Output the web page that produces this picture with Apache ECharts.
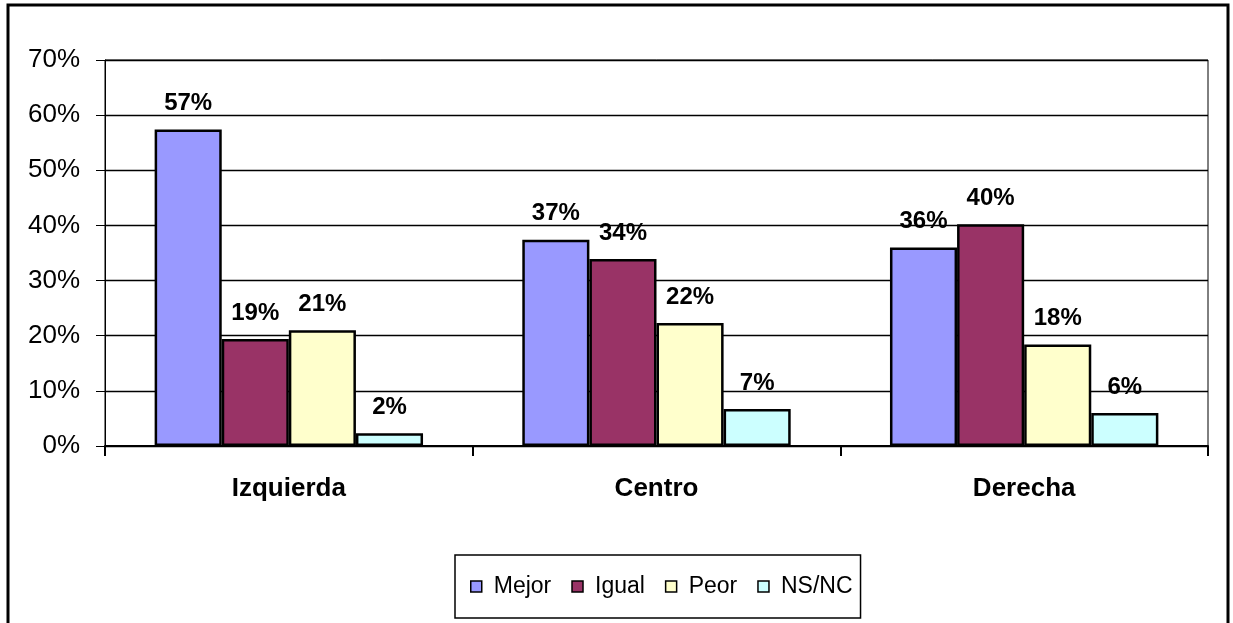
<!DOCTYPE html>
<html>
<head>
<meta charset="utf-8">
<script src="https://cdn.jsdelivr.net/npm/echarts@6/dist/echarts.min.js"></script>
<style>
  html, body { margin: 0; padding: 0; background: #fff; }
  #chart { width: 1233px; height: 623px; }
</style>
</head>
<body>
<div id="chart"></div>
<script>
// data
const categories = ['Izquierda', 'Centro', 'Derecha']
const mejor = [57.4, 37.4, 36.0]
const igual = [19.4, 33.9, 40.2]
const peor  = [21.0, 22.3, 18.4]
const nsnc  = [2.3, 6.7, 6.0]
const seriesNames = ['Mejor', 'Igual', 'Peor', 'NS/NC']
const colors = ['#9999FF', '#993366', '#FFFFCC', '#CCFFFF']

const font = 'Arial, "Liberation Sans", sans-serif'

const chart = echarts.init(document.getElementById('chart'))

const makeSeries = (name, data, i) => ({
  name,
  type: 'bar',
  data,
  barGap: '0%',
  barCategoryGap: '27%',
  itemStyle: { color: colors[i], borderColor: '#000', borderWidth: 2.5 },
  label: {
    show: true,
    position: 'top',
    distance: 14,
    formatter: p => Math.round(p.value) + '%',
    fontFamily: font,
    fontWeight: 'bold',
    fontSize: 24,
    color: '#000'
  },
  emphasis: { disabled: true }
})

chart.setOption({
  animation: false,
  backgroundColor: '#fff',
  grid: {
    left: 105, right: 25, top: 60, bottom: 177,
    show: true, borderColor: '#000', borderWidth: 1
  },
  legend: {
    data: seriesNames,
    left: 455, top: 555,
    padding: [20, 8, 20, 15],
    itemGap: 20,
    itemWidth: 11, itemHeight: 11,
    icon: 'rect',
    itemStyle: { borderColor: '#000', borderWidth: 1.5 },
    borderColor: '#000', borderWidth: 1.5,
    textStyle: { fontFamily: font, fontSize: 23, color: '#000', padding: [0, 0, 0, 7] }
  },
  xAxis: {
    type: 'category',
    data: categories,
    axisLine: { lineStyle: { color: '#000', width: 2 } },
    axisTick: { show: true, length: 10, lineStyle: { color: '#000', width: 2 } },
    axisLabel: { margin: 30, fontFamily: font, fontWeight: 'bold', fontSize: 26, color: '#000' }
  },
  yAxis: {
    type: 'value',
    min: 0, max: 70, interval: 10,
    axisLine: { show: true, lineStyle: { color: '#000', width: 1 } },
    axisTick: { show: true, length: 9, lineStyle: { color: '#000', width: 1 } },
    axisLabel: { margin: 25, formatter: '{value}%', fontFamily: font, fontSize: 26, color: '#000' },
    splitLine: { lineStyle: { color: '#000', width: 1.3 } }
  },
  graphic: [{
    type: 'rect',
    shape: { x: 8, y: 5, width: 1220, height: 660 },
    style: { fill: 'none', stroke: '#000', lineWidth: 3 },
    silent: true
  }],
  series: [
    makeSeries('Mejor', mejor, 0),
    makeSeries('Igual', igual, 1),
    makeSeries('Peor', peor, 2),
    makeSeries('NS/NC', nsnc, 3)
  ]
})

window.addEventListener('resize', () => chart.resize())
</script>
</body>
</html>
